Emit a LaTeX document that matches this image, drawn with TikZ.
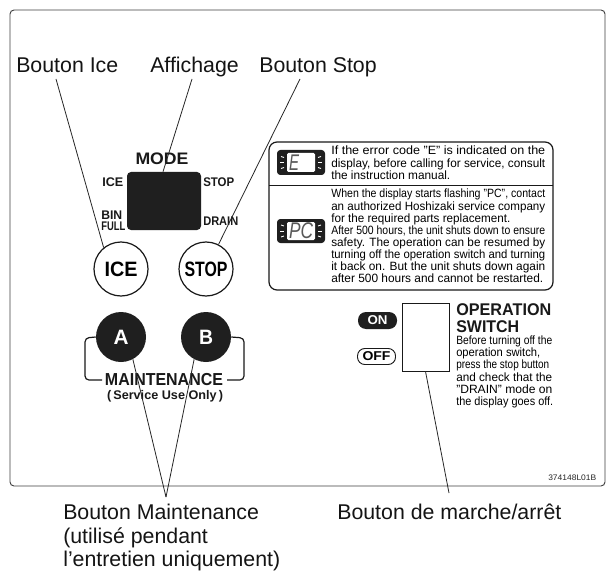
\documentclass[tikz,border=0pt]{standalone}
\usepackage{fontspec}
\usepackage{graphicx}
\setmainfont{Liberation Sans}
\newdimen\pxu \pxu=0.75pt
\newcommand{\fitw}[2]{\resizebox{#1\pxu}{\height}{#2}}
\tikzset{
  x=0.75pt,y=-0.75pt,
  callout/.style={font=\fontsize{16}{17.7}\selectfont,inner sep=0pt,anchor=base west,align=left,text=black!92},
  leader/.style={line width=0.6pt,black!85},
  frame/.style={draw=black!75,line width=0.7pt,rounded corners=3pt},
  panelbox/.style={draw=black!90,line width=0.9pt,rounded corners=6pt,fill=white},
  ring/.style={circle,draw=black!90,line width=0.9pt,fill=white,minimum size=54\pxu,inner sep=0pt},
  disc/.style={circle,fill=black!88,minimum size=50\pxu,inner sep=0pt,text=white},
  btn/.style={font=\fontsize{15.6}{16}\selectfont\bfseries},
  small/.style={font=\fontsize{9.4}{9.4}\selectfont\bfseries,inner sep=0pt,text=black!90},
  wire/.style={draw=black!90,line width=0.9pt,rounded corners=3pt},
  note/.style={font=\fontsize{9}{9.1}\selectfont,inner sep=0pt,anchor=north west,align=left,text=black},
  seg/.style={font=\fontsize{17}{17}\selectfont\itshape,inner sep=0pt,text=black!65},
  tick/.style={draw=white,line width=0.7pt},
}
\begin{document}
\begin{tikzpicture}
\useasboundingbox (0,0) rectangle (609,570);
\fill[white] (0,0) rectangle (609,570);
\draw[frame] (10,10) rectangle (605,486);

% display and mode labels
\node[font=\fontsize{12.5}{12.5}\selectfont\bfseries,inner sep=0pt,text=black!90] (mode) at (162,159) {\fitw{53}{MODE}};
\node[fill=black!88,rounded corners=3pt,minimum width=74\pxu,minimum height=58\pxu,inner sep=0pt] (display) at (164,201) {};
\node[small,anchor=west] (mice) at (102,182) {\fitw{21}{ICE}};
\node[small,anchor=west] (mstop) at (203,182) {\fitw{31}{STOP}};
\node[small,anchor=west] (mdrain) at (203,221) {\fitw{35}{DRAIN}};
\node[small,anchor=west] (mbin) at (101,215) {\fitw{21}{BIN}};
\node[small,anchor=west] (mfull) at (101,226) {\fitw{24}{FULL}};

% buttons
\node[ring,btn] (ice) at (121,269) {\fitw{33}{ICE}};
\node[ring,btn] (stop) at (206,269) {\fitw{43}{STOP}};
\node[disc,btn] (a) at (121,337) {\fitw{15}{A}};
\node[disc,btn] (b) at (206,337) {\fitw{14}{B}};
\node[font=\fontsize{13}{13}\selectfont\bfseries,inner sep=0pt,text=black!90] (maint) at (164,380) {\fitw{118}{MAINTENANCE}};
\node[font=\fontsize{9.4}{9.4}\selectfont\bfseries,inner sep=0pt,text=black!90] (service) at (165,396) {\fitw{116}{(\,Service Use Only\,)}};
\draw[wire] (a.west) -- (85,338) -- (85,380) -- (102,380);
\draw[wire] (b.east) -- (244,338) -- (244,380) -- (227,380);

% instruction panel
\draw[panelbox] (269,142) rectangle (553,290);
\draw[draw=black!90,line width=0.7pt] (269,185) -- (553,185);
\node[note] (note1) at (331,146) {\fitw{214}{If the error code "E" is indicated on the}\\
\fitw{214}{display, before calling for service, consult}\\
\fitw{119}{the instruction manual.}};
\node[note] (note2) at (331,189) {\fitw{214}{When the display starts flashing "PC", contact}\\
\fitw{214}{an authorized Hoshizaki service company}\\
\fitw{179}{for the required parts replacement.}\\
\fitw{214}{After 500 hours, the unit shuts down to ensure}\\
\fitw{214}{safety. The operation can be resumed by}\\
\fitw{214}{turning off the operation switch and turning}\\
\fitw{214}{it back on. But the unit shuts down again}\\
\fitw{212}{after 500 hours and cannot be restarted.}};

% small display icons
\fill[black!88,rounded corners=2.5pt] (277,150) rectangle (325,175);
\fill[white,rounded corners=1pt] (287,153) rectangle (315,172);
\node[seg] (iconE) at (294,162.5) {\fitw{10}{E}};
\fill[black!88,rounded corners=2.5pt] (277,219) rectangle (325,243);
\fill[white,rounded corners=1pt] (287,222) rectangle (315,240);
\node[seg] (iconPC) at (301,231) {\fitw{24}{PC}};
\foreach \yc in {162.5,231} {
  \draw[tick] (280,\yc) -- (284,\yc);
  \draw[tick] (281,\yc-6) -- (284,\yc-5);
  \draw[tick] (281,\yc+6) -- (284,\yc+5);
  \draw[tick] (318,\yc) -- (322,\yc);
  \draw[tick] (318,\yc-5) -- (321,\yc-6);
  \draw[tick] (318,\yc+5) -- (321,\yc+6);
}

% switch
\node[draw=black!90,line width=0.7pt,minimum width=47\pxu,minimum height=68\pxu,inner sep=0pt] (switch) at (425.5,337) {};
\node[fill=black!88,rounded corners=6pt,minimum width=39\pxu,minimum height=17\pxu,inner sep=0pt,text=white,font=\fontsize{9.6}{10}\selectfont\bfseries] (on) at (377.5,320.5) {\fitw{20}{ON}};
\node[draw=black!90,line width=0.7pt,rounded corners=5.5pt,minimum width=38\pxu,minimum height=16\pxu,inner sep=0pt,font=\fontsize{9.6}{10}\selectfont\bfseries] (off) at (376.5,356.5) {\fitw{28}{OFF}};
\node[font=\fontsize{12.7}{12.7}\selectfont\bfseries,inner sep=0pt,anchor=north west,align=left,text=black!90] (swtitle) at (456,303) {\fitw{95}{OPERATION}\\ \fitw{63}{SWITCH}};
\node[font=\fontsize{9}{9.15}\selectfont,inner sep=0pt,anchor=north west,align=left] (swnote) at (456,335.5) {\fitw{96}{Before turning off the}\\
\fitw{84}{operation switch,}\\
\fitw{93}{press the stop button}\\
\fitw{96}{and check that the}\\
\fitw{96}{"DRAIN" mode on}\\
\fitw{97}{the display goes off.}};
\node[font=\fontsize{6}{6}\selectfont,inner sep=0pt,anchor=west,text=black!85] (code) at (548,478) {\fitw{48}{374148L01B}};

% callouts
\node[callout] (lice) at (16,73) {Bouton Ice};
\node[callout] (laff) at (150,73) {Affichage};
\node[callout] (lstop) at (259,73) {Bouton Stop};
\node[callout,anchor=north west] (lmaint) at (63,504) {Bouton Maintenance\\(utilisé pendant\\l’entretien uniquement)};
\node[callout] (lsw) at (337,519) {Bouton de marche/arrêt};

\coordinate (tice) at (56,79);
\coordinate (taff) at (192,79);
\coordinate (tstop) at (300,79);
\coordinate (tmaint) at (166,497);
\coordinate (tsw) at (449,493);
\draw[leader] (tice) -- (ice.129);
\draw[leader] (taff) -- (display.north -| 163,172);
\draw[leader] (tstop) -- (stop.63);
\draw[leader] (tmaint) -- (a.-62);
\draw[leader] (tmaint) -- (b.-118);
\draw[leader] (tsw) -- (switch.south);
\end{tikzpicture}
\end{document}
